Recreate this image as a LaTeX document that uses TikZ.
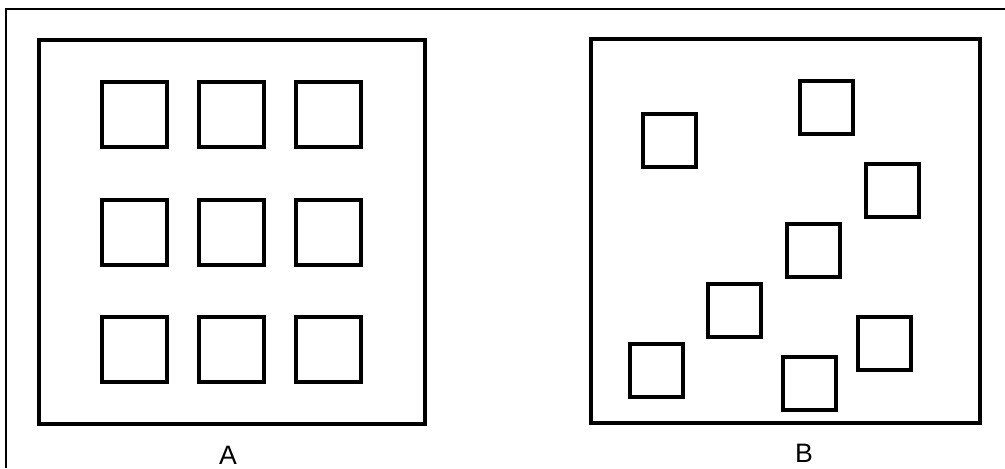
\documentclass[tikz,border=0pt]{standalone}
\usepackage{fontspec}
\setmainfont{Liberation Sans}
\usetikzlibrary{positioning}

\tikzset{
  panel/.style={draw, line width=3pt, line join=miter},
  cell/.style={draw, line width=2.6pt, line join=miter},
  caption/.style={font=\fontsize{20}{24}\selectfont, inner sep=0pt}
}

\begin{document}
\begin{tikzpicture}[x=0.75pt, y=-0.75pt]
  \useasboundingbox (0,0) rectangle (1005,468);
  % thin border of the scan
  \draw[line width=1pt] (6,468) -- (6,9) -- (1005,9);

  % panel A: regular grid
  \draw[panel] (39,40) rectangle (425,424);
  \foreach \x in {102,199,296}
    \foreach \y in {82,200,317}
      \draw[cell] (\x,\y) rectangle ++(65,65);
  \node[caption] (labA) at (228,455) {A};

  % panel B: scattered
  \draw[panel] (591,39) rectangle (980,423);
  \foreach \x/\y in {643/114, 800/81, 866/164, 787/224, 708/284, 858/317, 630/344, 783/357}
    \draw[cell] (\x,\y) rectangle ++(53,53);
  \node[caption] (labB) at (804,453) {B};
\end{tikzpicture}
\end{document}
